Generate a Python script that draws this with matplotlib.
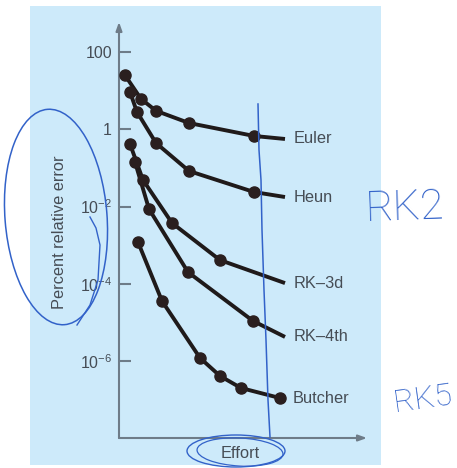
import matplotlib
matplotlib.use('Agg')
import matplotlib.pyplot as plt
from matplotlib.patches import Rectangle, Ellipse

# ---------------- data ----------------
series_names = ['Euler', 'Heun', 'RK–3d', 'RK–4th', 'Butcher']

euler_effort = [6, 22, 37, 70, 135]
euler_error = [25, 6.1, 3.0, 1.45, 0.67]
euler_end = (166, 0.56)

heun_effort = [11, 18, 37, 70, 135]
heun_error = [9.2, 2.8, 0.44, 0.083, 0.0237]
heun_end = (166, 0.0176)

rk3_effort = [11, 24, 53, 101]
rk3_error = [0.415, 0.0485, 0.00374, 4.1e-4]
rk3_end = (166, 1.04e-4)

rk4_effort = [16, 30, 69, 134]
rk4_error = [0.142, 0.0086, 2.0e-4, 1.09e-5]
rk4_end = (166, 4.2e-6)

butcher_effort = [19, 43, 81, 101, 122, 161]
butcher_error = [1.2e-3, 3.57e-5, 1.2e-6, 4.1e-7, 2.0e-7, 1.1e-7]
butcher_end = (161, 1.1e-7)

ytick_values = [100, 1, 1e-2, 1e-4, 1e-6]
ytick_labels = ['100', '1', r'$\mathregular{10^{-2}}$', r'$\mathregular{10^{-4}}$',
                r'$\mathregular{10^{-6}}$']

# ---------------- styling ----------------
plt.rcParams['font.family'] = ['Liberation Sans', 'DejaVu Sans']
plt.rcParams['mathtext.fontset'] = 'custom'
plt.rcParams['mathtext.rm'] = 'Liberation Sans'

W, H = 457, 468
fig = plt.figure(figsize=(W / 100, H / 100), dpi=100)
fig.patch.set_facecolor('white')

panel_color = '#cdeafa'
axis_color = '#6e7c88'
text_color = '#464d55'
line_color = '#1f1a1a'
ink = '#3262c9'

fig.add_artist(Rectangle((30 / W, 1 - 465 / H), 351 / W, 459 / H,
                         transform=fig.transFigure, facecolor=panel_color,
                         edgecolor='none', zorder=0))

ax = fig.add_axes([119 / W, 1 - 438 / H, (367 - 119) / W, (438 - 22) / H])
ax.set_facecolor('none')
ax.set_yscale('log')
dec = 38.625
ax.set_xlim(0, 248)
ax.set_ylim(10 ** (2 - (438 - 52) / dec), 10 ** (2 + (52 - 22) / dec))

for s in ax.spines.values():
    s.set_visible(False)
ax.annotate('', xy=(0, 1), xytext=(0, 0), xycoords='axes fraction',
            arrowprops=dict(arrowstyle='-|>,head_length=0.5,head_width=0.18',
                            color=axis_color, lw=1.5, shrinkA=0, shrinkB=0))
ax.annotate('', xy=(1, 0), xytext=(0, 0), xycoords='axes fraction',
            arrowprops=dict(arrowstyle='-|>,head_length=0.5,head_width=0.18',
                            color=axis_color, lw=1.5, shrinkA=0, shrinkB=0))

ax.set_xticks([])
ax.set_yticks(ytick_values)
ax.set_yticklabels(ytick_labels)
ax.minorticks_off()
ax.tick_params(axis='y', direction='in', length=8.6, width=1.5, color=axis_color,
               labelcolor=text_color, labelsize=11.5, pad=5)
ax.yaxis.set_minor_locator(matplotlib.ticker.NullLocator())

series = [
    (euler_effort, euler_error, euler_end, 'Euler'),
    (heun_effort, heun_error, heun_end, 'Heun'),
    (rk3_effort, rk3_error, rk3_end, 'RK–3d'),
    (rk4_effort, rk4_error, rk4_end, 'RK–4th'),
    (butcher_effort, butcher_error, butcher_end, 'Butcher'),
]
for xs, ys, end, name in series:
    lx = list(xs) + [end[0]]
    ly = list(ys) + [end[1]]
    ax.plot(lx, ly, color=line_color, lw=2.8, solid_capstyle='butt',
            solid_joinstyle='round', zorder=3)
    ax.plot(xs, ys, 'o', color='#2a1f1f', ms=8, zorder=4)
    off = 9 if name == 'Butcher' else 6
    ax.annotate(name, xy=end, xytext=(off, 0), textcoords='offset points',
                ha='left', va='center', color=text_color, fontsize=11.8)

fig.text(240 / W, 1 - 453 / H, 'Effort', ha='center', va='center',
         color=text_color, fontsize=11.8)
fig.text(60 / W, 1 - 232 / H, 'Percent relative error', ha='center', va='center',
         rotation=90, color=text_color, fontsize=11.8)

# ---------------- handwritten ink overlay ----------------
ov = fig.add_axes([0, 0, 1, 1], zorder=10)
ov.set_xlim(0, W)
ov.set_ylim(H, 0)
ov.axis('off')
ov.patch.set_alpha(0)

ov.add_patch(Ellipse((56, 217), 102, 216, angle=-4.5, fill=False, edgecolor=ink, lw=1.1))
ov.plot([90, 96, 100, 98, 90, 77], [217, 228, 245, 280, 305, 325], color=ink, lw=1.0)
ov.plot([258, 259, 261, 262, 264, 266, 268, 270], [104, 150, 180, 230, 290, 340, 400, 437],
        color=ink, lw=1.1)
ov.add_patch(Ellipse((236, 451), 98, 32, angle=0, fill=False, edgecolor=ink, lw=1.0))
ov.add_patch(Ellipse((240, 452), 86, 28, angle=3, fill=False, edgecolor=ink, lw=0.9))

ov.text(365, 221, 'RK2', color=ink, fontsize=31, family=['Roboto', 'DejaVu Sans'],
        fontweight=100, ha='left', va='baseline', rotation=2)
ov.text(392, 412, 'RK5', color=ink, fontsize=23, family=['Roboto', 'DejaVu Sans'],
        fontweight=100, ha='left', va='baseline', rotation=8)

fig.savefig('out.png', dpi=100)
